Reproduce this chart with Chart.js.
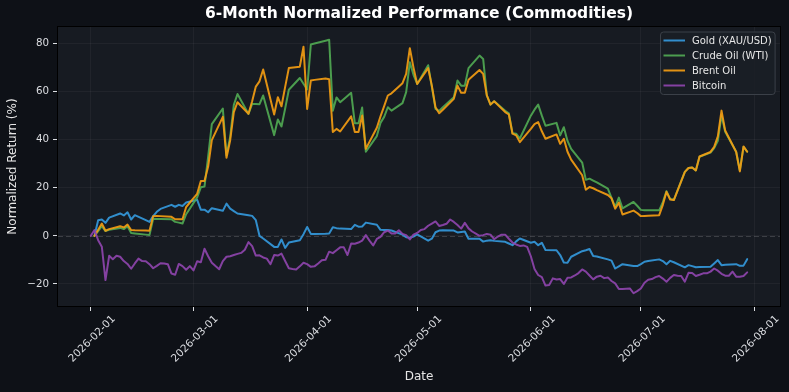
<!DOCTYPE html>
<html>
<head>
<meta charset="utf-8">
<script src="https://cdn.jsdelivr.net/npm/chart.js@4.4.1/dist/chart.umd.min.js"></script>
<style>
html,body{margin:0;padding:0;background:#0e1117;}
#wrap{width:789px;height:392px;}
canvas{display:block;}
</style>
</head>
<body>
<div id="wrap"><canvas id="c" width="789" height="392"></canvas></div>
<script>
// ---------- DATA ----------
const chartTitle = '6-Month Normalized Performance (Commodities)';
const seriesNames = ['Gold (XAU/USD)', 'Crude Oil (WTI)', 'Brent Oil', 'Bitcoin'];

// Trading days (commodities)
const tradeDates = [
 '2026-02-02','2026-02-03','2026-02-04','2026-02-05','2026-02-06',
 '2026-02-09','2026-02-10','2026-02-11','2026-02-12','2026-02-13',
 '2026-02-16','2026-02-17','2026-02-18','2026-02-19','2026-02-20',
 '2026-02-23','2026-02-24','2026-02-25','2026-02-26','2026-02-27',
 '2026-03-02','2026-03-03','2026-03-04','2026-03-05','2026-03-06',
 '2026-03-09','2026-03-10','2026-03-11','2026-03-12','2026-03-13',
 '2026-03-16','2026-03-17','2026-03-18','2026-03-19','2026-03-20',
 '2026-03-23','2026-03-24','2026-03-25','2026-03-26','2026-03-27',
 '2026-03-30','2026-03-31','2026-04-01','2026-04-02','2026-04-03',
 '2026-04-06','2026-04-07','2026-04-08','2026-04-09','2026-04-10',
 '2026-04-13','2026-04-14','2026-04-15','2026-04-16','2026-04-17',
 '2026-04-20','2026-04-21','2026-04-22','2026-04-23','2026-04-24',
 '2026-04-27','2026-04-28','2026-04-29','2026-04-30','2026-05-01',
 '2026-05-04','2026-05-05','2026-05-06','2026-05-07','2026-05-08',
 '2026-05-11','2026-05-12','2026-05-13','2026-05-14','2026-05-15',
 '2026-05-18','2026-05-19','2026-05-20','2026-05-21','2026-05-22',
 '2026-05-25','2026-05-26','2026-05-27','2026-05-28','2026-05-29',
 '2026-06-01','2026-06-02','2026-06-03','2026-06-04','2026-06-05',
 '2026-06-08','2026-06-09','2026-06-10','2026-06-11','2026-06-12',
 '2026-06-15','2026-06-16','2026-06-17','2026-06-18','2026-06-19',
 '2026-06-22','2026-06-23','2026-06-24','2026-06-25','2026-06-26',
 '2026-06-29','2026-06-30','2026-07-01','2026-07-02','2026-07-03',
 '2026-07-06','2026-07-07','2026-07-08','2026-07-09','2026-07-10',
 '2026-07-13','2026-07-14','2026-07-15','2026-07-16','2026-07-17',
 '2026-07-20','2026-07-21','2026-07-22','2026-07-23','2026-07-24',
 '2026-07-27','2026-07-28','2026-07-29','2026-07-30'
];

const goldValues = [
 0, 6.5, 6.8, 5.4, 7.6,
 9.3, 8.5, 9.8, 6.8, 8.6,
 6.5, 5.8, 8.2, 10.0, 11.2,
 12.9, 12.1, 12.9, 12.4, 13.9,
 15.0, 10.9, 10.9, 9.8, 11.5,
 10.4, 13.4, 11.3, 10.3, 9.3,
 8.6, 8.3, 6.5, 0.0, -1.1,
 -4.6, -4.6, -1.5, -5.0, -2.8,
 -1.8, 0.7, 3.7, 0.8, 0.8,
 0.9, 1.0, 3.6, 3.2, 3.0,
 2.8, 4.6, 3.8, 3.9, 5.5,
 4.6, 2.5, 2.4, 2.4, 2.2,
 0.5, -0.6, -0.8, -0.3, 0.6,
 -2.0, -1.2, 1.5, 2.2, 2.3,
 2.2, 1.4, 1.6, 1.8, -1.2,
 -1.2, -2.4, -2.0, -1.8, -2.1,
 -2.5, -3.2, -3.9, -2.3, -1.1,
 -2.9, -2.5, -3.9, -2.9, -5.9,
 -6.0, -8.0, -11.1, -11.2, -8.7,
 -6.4, -6.0, -5.5, -8.4, -8.6,
 -9.8, -10.3, -13.6, -12.7, -11.8,
 -12.6, -12.6, -11.8, -10.8, -10.5,
 -9.8, -10.5, -11.8, -10.4, -11.0,
 -13.1, -12.2, -12.6, -13.1, -13.0,
 -12.9, -11.5, -10.1, -12.2, -12.0,
 -11.8, -12.5, -12.4, -9.7
];

const wtiValues = [
 0, 2.0, 4.0, 2.0, 2.5,
 3.3, 2.8, 4.0, 1.2, 1.0,
 0.5, 0.3, 7.1, 7.0, 7.0,
 6.9, 5.8, 5.5, 5.1, 9.0,
 16.0, 20.2, 20.5, 33.0, 46.5,
 53.0, 33.5, 41.2, 54.5, 59.0,
 50.7, 54.9, 54.9, 54.8, 58.4,
 41.9, 48.4, 45.5, 53.0, 60.8,
 65.7, 63.3, 60.9, 79.6, 80.0,
 81.2, 81.6, 52.1, 57.6, 55.6,
 59.5, 46.8, 46.8, 53.4, 35.0,
 41.5, 47.0, 49.5, 53.5, 52.1,
 55.2, 59.8, 72.2, 67.0, 63.2,
 71.0, 62.0, 52.8, 52.0, 53.5,
 57.7, 64.6, 62.5, 62.5, 69.8,
 75.0, 73.6, 58.4, 54.6, 56.0,
 52.0, 51.0, 42.7, 42.5, 40.5,
 50.0, 52.5, 54.6, 50.0, 45.8,
 47.0, 41.8, 45.2, 39.5, 36.2,
 30.5, 23.3, 23.8, 23.0, 22.2,
 19.6, 15.8, 12.0, 15.9, 11.4,
 14.1, 12.5, 10.8, 10.6, 10.6,
 10.6, 14.0, 18.6, 15.3, 15.0,
 26.6, 28.2, 28.4, 27.2, 32.9,
 34.6, 36.5, 39.5, 50.2, 43.3,
 35.0, 27.2, 37.0, 35.0
];

const brentValues = [
 0, 2.5, 5.1, 2.1, 2.8,
 4.0, 3.5, 4.7, 2.4, 2.3,
 2.2, 2.1, 8.2, 8.3, 8.2,
 7.9, 6.9, 6.9, 6.9, 12.0,
 17.5, 22.8, 22.8, 28.8, 39.8,
 49.5, 32.5, 39.7, 51.5, 55.6,
 50.8, 56.0, 62.1, 64.3, 69.2,
 50.5, 57.7, 53.9, 62.0, 69.8,
 70.4, 78.7, 52.8, 64.6, 64.9,
 65.5, 65.2, 43.2, 44.5, 43.4,
 49.7, 43.2, 43.2, 50.1, 36.2,
 45.0, 49.7, 54.0, 58.4, 59.3,
 63.5, 67.4, 78.1, 70.0, 63.2,
 69.8, 62.5, 53.5, 51.0, 52.5,
 57.0, 62.5, 59.5, 59.5, 64.9,
 69.0, 67.4, 58.4, 54.6, 56.0,
 51.5, 50.5, 42.5, 41.8, 39.0,
 44.5, 46.5, 47.3, 43.5, 40.4,
 42.2, 38.3, 40.4, 35.0, 31.7,
 25.2, 19.2, 20.3, 19.8, 19.0,
 17.0, 15.6, 11.3, 13.8, 8.9,
 10.5, 9.5, 8.2, 8.3, 8.4,
 8.6, 12.9, 18.3, 15.1, 14.9,
 26.6, 28.2, 28.4, 27.2, 33.0,
 34.9, 37.0, 41.4, 52.1, 43.8,
 34.9, 26.8, 37.2, 35.0
];

// Calendar days (Bitcoin)
const btcDates = [
 '2026-02-01','2026-02-02','2026-02-03','2026-02-04','2026-02-05','2026-02-06','2026-02-07','2026-02-08','2026-02-09','2026-02-10',
 '2026-02-11','2026-02-12','2026-02-13','2026-02-14','2026-02-15','2026-02-16','2026-02-17','2026-02-18','2026-02-19','2026-02-20',
 '2026-02-21','2026-02-22','2026-02-23','2026-02-24','2026-02-25','2026-02-26','2026-02-27','2026-02-28','2026-03-01','2026-03-02',
 '2026-03-03','2026-03-04','2026-03-05','2026-03-06','2026-03-07','2026-03-08','2026-03-09','2026-03-10','2026-03-11','2026-03-12',
 '2026-03-13','2026-03-14','2026-03-15','2026-03-16','2026-03-17','2026-03-18','2026-03-19','2026-03-20','2026-03-21','2026-03-22',
 '2026-03-23','2026-03-24','2026-03-25','2026-03-26','2026-03-27','2026-03-28','2026-03-29','2026-03-30','2026-03-31','2026-04-01',
 '2026-04-02','2026-04-03','2026-04-04','2026-04-05','2026-04-06','2026-04-07','2026-04-08','2026-04-09','2026-04-10','2026-04-11',
 '2026-04-12','2026-04-13','2026-04-14','2026-04-15','2026-04-16','2026-04-17','2026-04-18','2026-04-19','2026-04-20','2026-04-21',
 '2026-04-22','2026-04-23','2026-04-24','2026-04-25','2026-04-26','2026-04-27','2026-04-28','2026-04-29','2026-04-30','2026-05-01',
 '2026-05-02','2026-05-03','2026-05-04','2026-05-05','2026-05-06','2026-05-07','2026-05-08','2026-05-09','2026-05-10','2026-05-11',
 '2026-05-12','2026-05-13','2026-05-14','2026-05-15','2026-05-16','2026-05-17','2026-05-18','2026-05-19','2026-05-20','2026-05-21',
 '2026-05-22','2026-05-23','2026-05-24','2026-05-25','2026-05-26','2026-05-27','2026-05-28','2026-05-29','2026-05-30','2026-05-31',
 '2026-06-01','2026-06-02','2026-06-03','2026-06-04','2026-06-05','2026-06-06','2026-06-07','2026-06-08','2026-06-09','2026-06-10',
 '2026-06-11','2026-06-12','2026-06-13','2026-06-14','2026-06-15','2026-06-16','2026-06-17','2026-06-18','2026-06-19','2026-06-20',
 '2026-06-21','2026-06-22','2026-06-23','2026-06-24','2026-06-25','2026-06-26','2026-06-27','2026-06-28','2026-06-29','2026-06-30',
 '2026-07-01','2026-07-02','2026-07-03','2026-07-04','2026-07-05','2026-07-06','2026-07-07','2026-07-08','2026-07-09','2026-07-10',
 '2026-07-11','2026-07-12','2026-07-13','2026-07-14','2026-07-15','2026-07-16','2026-07-17','2026-07-18','2026-07-19','2026-07-20',
 '2026-07-21','2026-07-22','2026-07-23','2026-07-24','2026-07-25','2026-07-26','2026-07-27','2026-07-28','2026-07-29','2026-07-30'
];

const btcValues = [
 0, 2.4, -1.8, -4.5, -18.4, -8.3, -9.7, -8.3, -8.7, -10.5,
 -11.7, -13.7, -11.5, -9.5, -10.5, -10.6, -11.8, -13.5, -12.5, -11.4,
 -11.5, -11.8, -15.7, -16.2, -11.7, -12.6, -14.1, -12.6, -14.4, -10.6,
 -11.0, -5.4, -8.5, -11.2, -12.6, -13.9, -10.5, -8.7, -8.5, -8.0,
 -7.5, -7.1, -5.8, -2.6, -4.3, -8.2, -8.1, -9.0, -9.5, -11.8,
 -8.0, -8.2, -7.4, -10.5, -13.5, -13.8, -14.0, -12.7, -11.2, -11.8,
 -12.9, -12.7, -11.5, -10.2, -10.0, -6.6, -7.2, -6.0, -4.8, -4.8,
 -8.0, -3.2, -3.3, -2.8, -2.0, 0.3, -2.0, -4.0, -1.3, -0.4,
 1.5, 2.2, 1.0, 1.0, 2.3, 0.8, 0.3, -1.5, 0.5, 1.2,
 2.4, 2.8, 4.2, 5.1, 6.0, 4.1, 4.5, 5.0, 6.8, 5.8,
 4.5, 3.0, 5.4, 3.1, 1.8, 0.9, 0.0, 0.3, 0.8, 0.5,
 -1.4, -0.3, 0.5, 0.5, -1.2, -2.8, -3.6, -4.2, -4.0, -4.6,
 -8.5, -13.8, -16.3, -17.2, -20.7, -20.5, -17.7, -18.2, -18.0, -20.0,
 -17.4, -17.3, -16.5, -15.5, -14.0, -14.9, -16.5, -18.1, -17.0, -16.6,
 -17.6, -17.3, -18.8, -19.8, -22.1, -22.1, -22.0, -21.9, -23.9, -23.0,
 -21.9, -19.5, -18.3, -18.0, -17.2, -16.7, -17.8, -19.1, -17.5, -16.3,
 -16.6, -16.7, -19.1, -15.4, -15.5, -16.7, -16.2, -15.6, -15.6, -14.9,
 -13.6, -14.5, -15.8, -16.6, -16.6, -14.9, -17.0, -17.0, -16.7, -15.2
];

// Tick labels
const xTickLabels = ['2026-02-01','2026-03-01','2026-04-01','2026-05-01','2026-06-01','2026-07-01','2026-08-01'];
const yTickValues = [-20, 0, 20, 40, 60, 80];

// ---------- HELPERS ----------
const DAY_MS = 86400000;
const ORIGIN = Date.UTC(2026, 1, 1);
function dayOffset(s) {
  const p = s.split('-').map(Number);
  return (Date.UTC(p[0], p[1] - 1, p[2]) - ORIGIN) / DAY_MS;
}
function toPoints(dates, vals) {
  return dates.map((d, i) => ({ x: dayOffset(d), y: vals[i] }));
}

const FONT = '"DejaVu Sans", "Liberation Sans", sans-serif';
const colors = ['rgba(52,152,219,0.92)', 'rgba(80,168,82,0.92)', 'rgba(243,156,18,0.92)', 'rgba(142,68,173,0.92)'];

// ---------- PLUGINS ----------
const bgPlugin = {
  id: 'bg',
  beforeDraw(chart) {
    const { ctx, chartArea: a } = chart;
    ctx.save();
    ctx.fillStyle = '#0e1117';
    ctx.fillRect(0, 0, chart.width, chart.height);
    ctx.fillStyle = '#171b22';
    ctx.fillRect(a.left, a.top, a.right - a.left, a.bottom - a.top);
    ctx.restore();
  }
};

const zeroLinePlugin = {
  id: 'zeroLine',
  beforeDatasetsDraw(chart) {
    const { ctx, chartArea: a, scales } = chart;
    const y0 = Math.round(scales.y.getPixelForValue(0)) + 0.5;
    ctx.save();
    ctx.strokeStyle = 'rgba(255,255,255,0.16)';
    ctx.lineWidth = 1;
    ctx.setLineDash([5, 3]);
    ctx.beginPath();
    ctx.moveTo(a.left, y0);
    ctx.lineTo(a.right, y0);
    ctx.stroke();
    ctx.restore();
  }
};

const framePlugin = {
  id: 'frame',
  afterDatasetsDraw(chart) {
    const { ctx, chartArea: a } = chart;
    ctx.save();
    ctx.strokeStyle = '#000000';
    ctx.lineWidth = 1;
    ctx.strokeRect(Math.round(a.left) - 0.5, Math.round(a.top) - 0.5, Math.round(a.right - a.left) + 1, Math.round(a.bottom - a.top) + 1);
    ctx.restore();
  }
};

const legendPlugin = {
  id: 'boxLegend',
  afterDatasetsDraw(chart) {
    const { ctx, chartArea: a } = chart;
    const x0 = a.right - 119.5, y0 = a.top + 5, w = 114.6, h = 62.5;
    ctx.save();
    ctx.beginPath();
    ctx.roundRect(x0, y0, w, h, 3);
    ctx.fillStyle = 'rgba(26,30,38,0.85)';
    ctx.fill();
    ctx.strokeStyle = '#3b4048';
    ctx.lineWidth = 1;
    ctx.stroke();
    ctx.font = '10px ' + FONT;
    ctx.textBaseline = 'middle';
    ctx.textAlign = 'left';
    chart.data.datasets.forEach((ds, i) => {
      const yy = y0 + 8.5 + i * 15;
      ctx.strokeStyle = ds.borderColor;
      ctx.lineWidth = 2;
      ctx.beginPath();
      ctx.moveTo(x0 + 3, yy);
      ctx.lineTo(x0 + 24.5, yy);
      ctx.stroke();
      ctx.fillStyle = '#e6e6e6';
      ctx.fillText(ds.label, x0 + 31.5, yy + 0.5);
    });
    ctx.restore();
  }
};

const titlePlugin = {
  id: 'topTitle',
  afterDraw(chart) {
    const { ctx, chartArea: a } = chart;
    ctx.save();
    ctx.font = 'bold 15.5px ' + FONT;
    ctx.fillStyle = '#ffffff';
    ctx.textAlign = 'center';
    ctx.textBaseline = 'middle';
    ctx.fillText(chartTitle, (a.left + a.right) / 2, 14);
    ctx.restore();
  }
};

// ---------- CHART ----------
const tickColor = '#dcdee2';
new Chart(document.getElementById('c').getContext('2d'), {
  type: 'line',
  data: {
    datasets: [
      { label: seriesNames[0], data: toPoints(tradeDates, goldValues), borderColor: colors[0], order: 3 },
      { label: seriesNames[1], data: toPoints(tradeDates, wtiValues), borderColor: colors[1], order: 2 },
      { label: seriesNames[2], data: toPoints(tradeDates, brentValues), borderColor: colors[2], order: 1 },
      { label: seriesNames[3], data: toPoints(btcDates, btcValues), borderColor: colors[3], order: 0 }
    ]
  },
  options: {
    responsive: false,
    animation: false,
    devicePixelRatio: 1,
    layout: { padding: { top: 27, right: 9, left: 0, bottom: 0 } },
    elements: {
      point: { radius: 0, hoverRadius: 0 },
      line: { borderWidth: 2, tension: 0, borderJoinStyle: 'round', borderCapStyle: 'round', fill: false }
    },
    plugins: { legend: { display: false }, title: { display: false }, tooltip: { enabled: false } },
    scales: {
      x: {
        type: 'linear',
        min: -8.95,
        max: 187.95,
        afterBuildTicks: (s) => { s.ticks = xTickLabels.map(d => ({ value: dayOffset(d) })); },
        afterFit: (s) => { s.height = 86; },
        ticks: {
          color: tickColor,
          font: { family: FONT, size: 10.5 },
          minRotation: 45, maxRotation: 45,
          autoSkip: false,
          labelOffset: 23,
          padding: 2,
          callback: (v, i) => xTickLabels[i]
        },
        grid: { color: 'rgba(255,255,255,0.045)', tickColor: tickColor, tickLength: 5 },
        border: { display: false },
        title: { display: true, text: 'Date', color: '#e6e6e6', font: { family: FONT, size: 12 }, padding: { top: 4, bottom: 8 } }
      },
      y: {
        type: 'linear',
        min: -29.2,
        max: 86.9,
        afterBuildTicks: (s) => { s.ticks = yTickValues.map(v => ({ value: v })); },
        afterFit: (s) => { s.width = 58; },
        ticks: {
          color: tickColor,
          font: { family: FONT, size: 10.3 },
          padding: 4,
          callback: (v) => (v < 0 ? '\u2212' + Math.abs(v) : String(v))
        },
        grid: { color: 'rgba(255,255,255,0.045)', tickColor: tickColor, tickLength: 5 },
        border: { display: false },
        title: { display: true, text: 'Normalized Return (%)', color: '#e6e6e6', font: { family: FONT, size: 12 }, padding: { top: 6, bottom: 0 } }
      }
    }
  },
  plugins: [bgPlugin, zeroLinePlugin, framePlugin, legendPlugin, titlePlugin]
});
</script>
</body>
</html>
